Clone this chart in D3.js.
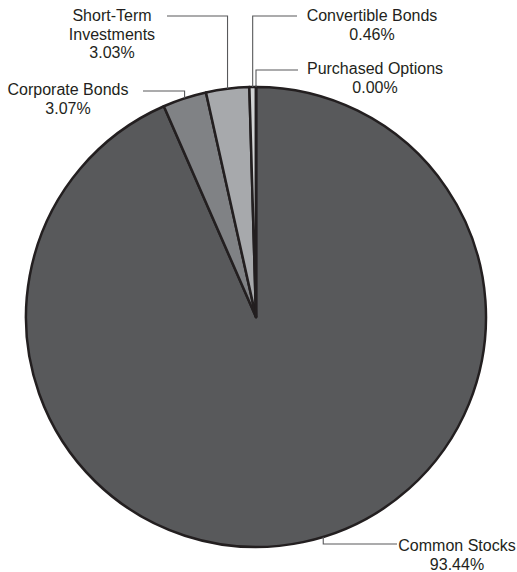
<!DOCTYPE html>
<html>
<head>
<meta charset="utf-8">
<script src="https://cdn.jsdelivr.net/npm/d3@7"></script>
<style>
  html, body { margin: 0; padding: 0; background: #ffffff; }
  svg { display: block; }
  text { font-family: "Liberation Sans", Arial, Helvetica, sans-serif; font-size: 16px; fill: #231f20; }
</style>
</head>
<body>
<svg id="chart" width="517" height="572"></svg>
<script>
// ---- data ----
const categories = ["Common Stocks", "Corporate Bonds", "Short-Term Investments", "Convertible Bonds", "Purchased Options"];
const values = [93.44, 3.07, 3.03, 0.46, 0.00];
const labelLines = [
  ["Common Stocks"],
  ["Corporate Bonds"],
  ["Short-Term", "Investments"],
  ["Convertible Bonds"],
  ["Purchased Options"]
];
const percentLabels = ["93.44%", "3.07%", "3.03%", "0.46%", "0.00%"];

// ---- layout / style ----
const colors = ["#58595b", "#808285", "#a7a9ac", "#d1d3d4", "#e6e7e8"];
const cx = 256, cy = 317, R = 230;
// label layout: text centre x, first baseline y, leader horizontal y, leader end x, anchor angle override (deg)
const labelLayout = [
  { tx: 457, ty: 551, hy: 544, hx: 397, angleDeg: 163 },
  { tx: 68,  ty: 95,  hy: 91,  hx: 143 },
  { tx: 112, ty: 21,  hy: 16,  hx: 167 },
  { tx: 372, ty: 21,  hy: 16,  hx: 297 },
  { tx: 375, ty: 74,  hy: 70,  hx: 298 }
];
const lineH = 18.5;

const svg = d3.select("#chart");
const g = svg.append("g").attr("transform", `translate(${cx},${cy})`);

const data = categories.map((c, i) => ({ name: c, value: values[i], i }));
const pie = d3.pie().sort(null).value(d => d.value).startAngle(0).endAngle(2 * Math.PI);
const arcs = pie(data);
const arc = d3.arc().innerRadius(0).outerRadius(R);

g.selectAll("path.slice")
  .data(arcs)
  .join("path")
  .attr("class", "slice")
  .attr("d", arc)
  .attr("fill", d => colors[d.data.i])
  .attr("stroke", "#231f20")
  .attr("stroke-width", 2.5)
  .attr("stroke-linejoin", "round");

// leader lines
const leaders = svg.append("g");
arcs.forEach(a => {
  const L = labelLayout[a.data.i];
  const ang = L.angleDeg !== undefined ? L.angleDeg * Math.PI / 180 : (a.startAngle + a.endAngle) / 2;
  const px = cx + R * Math.sin(ang);
  const py = cy - R * Math.cos(ang);
  const pts = [[px, py], [px, L.hy], [L.hx, L.hy]];
  leaders.append("path")
    .attr("d", d3.line()(pts))
    .attr("fill", "none")
    .attr("stroke", "#58595b")
    .attr("stroke-width", 1.1);
});

// labels
const labels = svg.append("g");
arcs.forEach(a => {
  const i = a.data.i;
  const L = labelLayout[i];
  const lines = labelLines[i].concat([percentLabels[i]]);
  const t = labels.append("text").attr("text-anchor", "middle");
  lines.forEach((s, k) => {
    t.append("tspan").attr("x", L.tx).attr("y", L.ty + k * lineH).text(s);
  });
});
</script>
</body>
</html>
